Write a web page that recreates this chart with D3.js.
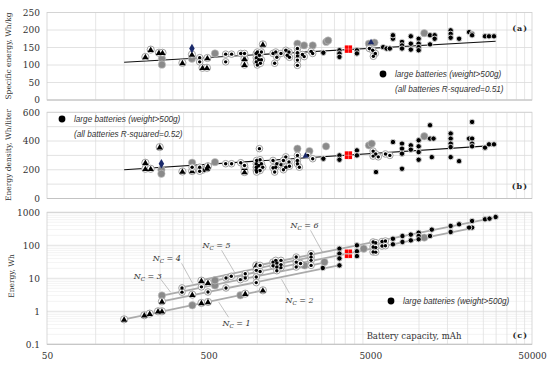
<!DOCTYPE html>
<html>
<head>
<meta charset="utf-8">
<script src="https://cdn.jsdelivr.net/npm/d3@7"></script>
<style>
  body { margin: 0; background: #fff; }
  svg { display: block; }
</style>
</head>
<body>
<svg id="chart" width="550" height="366"></svg>
<script>
// Shared x axis (battery capacity, mAh) and tick labels
const capTicks = [50, 500, 5000, 50000];
const seTicks = [0, 50, 100, 150, 200, 250];
const edTicks = [0, 200, 400, 600];
const whTicks = [0.1, 1, 10, 100, 1000];

// Panel (a): specific energy, Wh/kg  -> [capacity mAh, value]
const seCells = [[440,121],[440,109],[637,131],[693,131],[637,109],[789,133],[833,133],[985,133],[985,121],[985,109],
  [1000,137],[1030,128],[1060,137],[1020,115],[1060,115],[1000,100],[1045,105],[1250,133],[1300,137],[1320,122],
  [1280,105],[1400,133],[1500,142],[1570,137],[1530,128],[1580,122],[1770,147],[1770,135],[1770,126],[1770,114],
  [1770,99],[1900,130],[1950,124],[2150,139],[2200,133],[4930,147],[5170,142],[5370,133],[5220,125]];
const seLarge = [[2560,135],[3220,142],[3220,133],[3220,123],[4130,142],[4130,133],[6000,151],[6300,147],[6600,147],
  [6900,175],[6900,185],[7850,166],[7850,156],[7850,147],[8900,182],[8900,161],[8900,144],[9950,175],[9950,161],
  [9950,151],[9950,142],[11700,185],[12500,185],[12500,175],[11700,159],[15700,199],[15700,189],[15700,178],
  [17700,175],[20400,194],[21300,189],[21300,185],[25600,182],[27100,182],[29100,182]];
const seTri = [[203,123],[219,144],[246,135],[259,135],[344,106],[394,130],[491,120],[458,92],[488,92],[833,118],[833,101],[1082,159]];
const seGrey = [[257,118],[257,101],[394,118],[547,133],[1770,161],[1945,156],[2200,156],[2668,166],[2740,170],[4900,161],[5300,164],[10780,191]];
const seNavyDiamond = [[394,147]];
const seNavyTri = [[5050,166]];
const seRed = [[3570,151],[3750,151],[3570,140],[3750,140]];
const seTrend = [[150,108],[29800,168]];

// Panel (b): energy density, Wh/liter
const edCells = [[395,218],[440,218],[440,190],[637,242],[693,242],[789,249],[833,230],[985,242],[985,218],[985,195],
  [1030,347],[990,265],[1040,270],[1060,242],[1020,230],[990,218],[1080,218],[1040,195],[990,184],[1250,265],
  [1320,242],[1300,218],[1250,214],[1280,184],[1400,235],[1500,290],[1450,265],[1570,255],[1500,218],[1580,225],
  [1450,200],[1770,300],[1770,265],[1770,242],[1820,218],[2050,300],[2200,277],[5200,330],[5400,310],[5200,295],
  [5600,290],[6200,310],[6600,300]];
const edLarge = [[2560,277],[3220,300],[3220,270],[4130,335],[4130,300],[5420,184],[6900,393],[7850,382],[7850,347],
  [7850,312],[7850,207],[8900,370],[8900,340],[9950,405],[9950,363],[9950,323],[9950,270],[11700,510],[11700,417],
  [12300,417],[12000,288],[15700,452],[15700,417],[15700,382],[15700,358],[15700,288],[17700,260],[20400,417],
  [21300,417],[21300,382],[21300,363],[21300,533],[25600,354],[27100,377],[29100,377]];
const edTri = [[203,249],[203,207],[219,207],[249,358],[344,188],[395,191],[458,200],[488,210],[495,225],[833,214],[833,184]];
const edGrey = [[255,200],[255,172],[395,249],[547,253],[1770,347],[2100,330],[2660,363],[4900,370],[5100,382],[10780,433]];
const edNavyDiamond = [[255,242]];
const edNavyTri = [[1990,300]];
const edRed = [[3570,316],[3750,316],[3570,288],[3750,288]];
const edTrend = [[150,200],[29800,370]];

// Panel (c): energy, Wh
const whCells = [[342,5.1],[342,3.8],[451,5.5],[495,3.85],[640,10.2],[640,5.1],[690,11.5],[785,9.1],[842,10.2],[842,13.8],
  [985,17.4],[985,11],[985,7.4],[1040,24.6],[1040,16],[1250,31],[1320,29],[1300,35],[1400,35],[1250,24],[1320,22],
  [1400,26],[1400,21],[1320,17],[1740,44],[1740,31],[1740,22],[1850,28],[2150,56],[2150,44],[2150,35],[2150,24.6],
  [5200,126],[5400,120],[5900,130],[6200,135],[5200,89],[5400,86],[5900,95],[6200,97],[5200,63],[5400,62]];
const whLarge = [[2540,20.5],[3220,79],[3220,56],[3220,40],[3220,24.6],[4130,100],[4130,66],[4130,47],[6900,158],[6900,107],
  [7900,191],[7900,126],[8900,211],[8900,141],[9950,241],[9950,191],[9950,152],[12000,299],[11700,191],[15700,385],
  [15700,253],[17700,433],[21300,545],[21300,344],[20400,344],[25600,614],[27300,644],[29800,721]];
const whTri = [[150,0.57],[200,0.76],[216,0.85],[243,1.0],[257,1.0],[257,2.0],[396,3.2],[451,1.79],[451,8.5],[495,1.92],
  [495,7.4],[842,3.43],[1082,4.33],[985,24.6]];
const whGrey = [[257,3.0],[396,1.52],[547,6.1],[547,8.7],[785,3.05],[1960,24.6],[2600,31],[4550,79],[10780,171]];
const whRed = [[3570,66],[3750,66],[3570,47],[3750,47]];

// Cell-count fit lines: [N_C, [cap0, wh0], [cap1, wh1]]
const ncLines = [
  [1, [150, 0.57], [1082, 4.3]],
  [2, [257, 2.0], [3300, 25.5]],
  [3, [257, 3.0], [2600, 30]],
  [4, [342, 5.3], [21700, 340]],
  [5, [451, 8.8], [2150, 44]],
  [6, [985, 24], [29800, 700]]
];
// Labels: [N_C, label at [cap, wh], leader from [cap, wh] to [cap, wh]]
const ncLabels = [
  [1, [745, 0.43], [664, 0.66], [577, 1.9]],
  [2, [1822, 2.15], [1581, 3.5], [1412, 9.3]],
  [3, [210, 11.5], [253, 9.3], [291, 3.77]],
  [4, [275, 40], [340, 28.5], [398, 7.0]],
  [5, [560, 100], [601, 70.5], [723, 15.2]],
  [6, [1958, 404], [2133, 285], [2528, 62]]
];

const svg = d3.select("#chart");
const serif = "'DejaVu Serif', serif";
const sans = "'Liberation Sans', Arial, sans-serif";

const x = d3.scaleLog().domain([50, 50000]).range([47, 532]);
const ya = d3.scaleLinear().domain([0, 250]).range([100, 12.5]);
const yb = d3.scaleLinear().domain([0, 600]).range([198.5, 112.3]);
const yc = d3.scaleLog().domain([0.1, 1000]).range([344.3, 212.3]);

// vertical log gridlines at 2..9 times each decade start
const vMinor = [];
[50, 500, 5000].forEach(b => { for (let m = 2; m <= 9; m++) vMinor.push(b * m); });

function panelFrame(y, hMajor, hMinor, majorDark) {
  const g = svg.append("g");
  const [y0, y1] = y.range();
  g.selectAll(".hmin").data(hMinor).join("line")
    .attr("x1", x.range()[0]).attr("x2", x.range()[1])
    .attr("y1", d => y(d)).attr("y2", d => y(d))
    .attr("stroke", "#ececec").attr("stroke-width", 0.6);
  g.selectAll(".vmin").data(vMinor).join("line")
    .attr("x1", d => x(d)).attr("x2", d => x(d))
    .attr("y1", y0).attr("y2", y1)
    .attr("stroke", d => (majorDark && (d === 500 || d === 5000)) ? "#b0b0b0" : "#e0e0e0")
    .attr("stroke-width", 0.8);
  g.selectAll(".hmaj").data(hMajor).join("line")
    .attr("x1", x.range()[0]).attr("x2", x.range()[1])
    .attr("y1", d => y(d)).attr("y2", d => y(d))
    .attr("stroke", "#dadada").attr("stroke-width", 0.8);
  g.append("rect")
    .attr("x", x.range()[0]).attr("y", y1)
    .attr("width", x.range()[1] - x.range()[0]).attr("height", y0 - y1)
    .attr("fill", "none").attr("stroke", "#d0d0d0").attr("stroke-width", 0.8);
  g.append("line")
    .attr("x1", x.range()[0]).attr("x2", x.range()[1])
    .attr("y1", y0).attr("y2", y0)
    .attr("stroke", "#bfbfbf").attr("stroke-width", 0.8);
}

function yAxis(y, ticks, fmt) {
  const g = svg.append("g")
    .attr("transform", `translate(${x.range()[0]},0)`)
    .call(d3.axisLeft(y).tickValues(ticks).tickSize(0).tickPadding(7).tickFormat(fmt));
  g.select(".domain").remove();
  g.selectAll("text").attr("font-family", serif).attr("font-size", 9).attr("fill", "#333");
}

function yTitle(text, cx, cy) {
  svg.append("text")
    .attr("transform", `translate(${cx},${cy}) rotate(-90)`)
    .attr("text-anchor", "middle")
    .attr("font-family", serif).attr("font-size", 7.5).attr("fill", "#333")
    .text(text);
}

function panelTag(text, px, py) {
  svg.append("text").attr("x", px).attr("y", py)
    .attr("text-anchor", "end")
    .attr("font-family", serif).attr("font-size", 8).attr("font-weight", "bold")
    .attr("letter-spacing", 1).attr("fill", "#222")
    .text(text);
}

// markers
function ringDots(y, data) {
  const g = svg.append("g");
  g.selectAll("circle.o").data(data).join("circle").attr("class", "o")
    .attr("cx", d => x(d[0])).attr("cy", d => y(d[1])).attr("r", 3.3)
    .attr("fill", "#fff").attr("stroke", "#a0a0a0").attr("stroke-width", 1);
  g.selectAll("circle.i").data(data).join("circle").attr("class", "i")
    .attr("cx", d => x(d[0])).attr("cy", d => y(d[1])).attr("r", 1.7)
    .attr("fill", "#000");
}
function triangles(y, data, color = "#000", ring = true) {
  const g = svg.append("g");
  if (ring) {
    g.selectAll("circle").data(data).join("circle")
      .attr("cx", d => x(d[0])).attr("cy", d => y(d[1])).attr("r", 3.6)
      .attr("fill", "#fff").attr("stroke", "#a0a0a0").attr("stroke-width", 1);
  }
  g.selectAll("path").data(data).join("path")
    .attr("d", d3.symbol(d3.symbolTriangle, 17))
    .attr("transform", d => `translate(${x(d[0])},${y(d[1]) + 0.5})`)
    .attr("fill", color);
}
function greyDots(y, data) {
  svg.append("g").selectAll("circle").data(data).join("circle")
    .attr("cx", d => x(d[0])).attr("cy", d => y(d[1])).attr("r", 3.7)
    .attr("fill", "#8a8a8a").attr("stroke", "#c4c4c4").attr("stroke-width", 0.6);
}
function largeDots(y, data) {
  svg.append("g").selectAll("circle").data(data).join("circle")
    .attr("cx", d => x(d[0])).attr("cy", d => y(d[1])).attr("r", 2.7)
    .attr("fill", "#000").attr("stroke", "#d4d4d4").attr("stroke-width", 1);
}
function diamonds(y, data) {
  svg.append("g").selectAll("path").data(data).join("path")
    .attr("d", d3.symbol(d3.symbolDiamond, 26))
    .attr("transform", d => `translate(${x(d[0])},${y(d[1])})`)
    .attr("fill", "#1b2a6b");
}
function redSquares(y, data) {
  svg.append("g").selectAll("rect").data(data).join("rect")
    .attr("x", d => x(d[0]) - 2).attr("y", d => y(d[1]) - 2)
    .attr("width", 4).attr("height", 4)
    .attr("fill", "#f00").attr("stroke", "#fff").attr("stroke-width", 0.3);
}
function trendLine(y, data, color = "#111", width = 1.1) {
  svg.append("path").datum(data)
    .attr("d", d3.line().x(d => x(d[0])).y(d => y(d[1])))
    .attr("fill", "none").attr("stroke", color).attr("stroke-width", width);
}
function legend(px, py, lines) {
  svg.append("circle").attr("cx", px).attr("cy", py).attr("r", 3.4).attr("fill", "#000");
  lines.forEach((t, i) => {
    svg.append("text").attr("x", px + 12).attr("y", py + 3 + i * 14.5)
      .attr("font-family", sans).attr("font-style", "italic").attr("font-size", 8.2)
      .attr("fill", "#333").text(t);
  });
}

// ---- Panel (a)
panelFrame(ya, seTicks, [], true);
yAxis(ya, seTicks, d3.format("d"));
yTitle("Specific energy, Wh/kg", 11, 56);
trendLine(ya, seTrend);
greyDots(ya, seGrey);
triangles(ya, seTri);
ringDots(ya, seCells);
largeDots(ya, seLarge);
diamonds(ya, seNavyDiamond);
triangles(ya, seNavyTri, "#1b2a6b", false);
redSquares(ya, seRed);
legend(383, 74, ["large batteries (weight>500g)", "(all batteries R-squared=0.51)"]);
panelTag("(a)", 528, 31);

// ---- Panel (b)
panelFrame(yb, d3.range(0, 601, 100), [], true);
yAxis(yb, edTicks, d3.format("d"));
yTitle("Energy density, Wh/liter", 11, 155);
trendLine(yb, edTrend);
greyDots(yb, edGrey);
triangles(yb, edTri);
ringDots(yb, edCells);
largeDots(yb, edLarge);
diamonds(yb, edNavyDiamond);
triangles(yb, edNavyTri, "#1b2a6b", false);
redSquares(yb, edRed);
legend(62, 119, ["large batteries (weight>500g)", "(all batteries R-squared=0.52)"]);
panelTag("(b)", 528, 189);

// ---- Panel (c)
const whMinor = [];
[0.1, 1, 10, 100].forEach(b => { for (let m = 2; m <= 9; m++) whMinor.push(b * m); });
panelFrame(yc, whTicks, whMinor, false);
yAxis(yc, whTicks, d => String(d));
yTitle("Energy, Wh", 14, 276);

svg.append("g").selectAll("path").data(ncLines).join("path")
  .attr("d", d => d3.line().x(p => x(p[0])).y(p => yc(p[1]))([d[1], d[2]]))
  .attr("fill", "none").attr("stroke", "#ababab").attr("stroke-width", 1.8);

svg.append("g").selectAll("line").data(ncLabels).join("line")
  .attr("x1", d => x(d[2][0])).attr("y1", d => yc(d[2][1]))
  .attr("x2", d => x(d[3][0])).attr("y2", d => yc(d[3][1]))
  .attr("stroke", "#9a9a9a").attr("stroke-width", 0.6);

const lab = svg.append("g").selectAll("text").data(ncLabels).join("text")
  .attr("x", d => x(d[1][0])).attr("y", d => yc(d[1][1]) + 3)
  .attr("text-anchor", "middle")
  .attr("font-family", serif).attr("font-style", "italic").attr("font-size", 8).attr("fill", "#333");
lab.append("tspan").text("N");
lab.append("tspan").attr("dy", 2).attr("font-size", 5.5).text("C");
lab.append("tspan").attr("dy", -2).text(d => " = " + d[0]);

greyDots(yc, whGrey);
triangles(yc, whTri);
ringDots(yc, whCells);
largeDots(yc, whLarge);
redSquares(yc, whRed);
legend(391, 301, ["large batteries (weight>500g)"]);

svg.append("text").attr("x", 414).attr("y", 338.5).attr("text-anchor", "middle")
  .attr("font-family", serif).attr("font-size", 8.5).attr("fill", "#333")
  .text("Battery capacity, mAh");
panelTag("(c)", 528, 338);

// ---- shared x axis labels
const xa = svg.append("g")
  .attr("transform", `translate(0,${yc.range()[0]})`)
  .call(d3.axisBottom(x).tickValues(capTicks).tickSize(0).tickPadding(8).tickFormat(d3.format("d")));
xa.select(".domain").remove();
xa.selectAll("text").attr("font-family", serif).attr("font-size", 9).attr("fill", "#333");
</script>
</body>
</html>
